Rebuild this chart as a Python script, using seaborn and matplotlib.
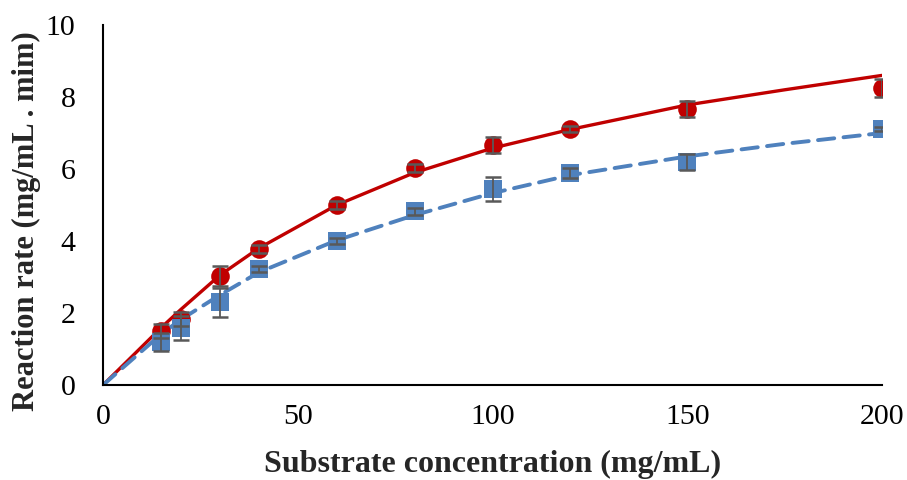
import matplotlib
matplotlib.use('Agg')
import matplotlib.pyplot as plt
import seaborn as sns

# measured points
conc = [15, 20, 30, 40, 60, 80, 100, 120, 150, 200]
rate_red = [1.50, 1.83, 3.03, 3.78, 5.00, 6.03, 6.67, 7.11, 7.67, 8.25]
err_red = [0.20, 0.20, 0.28, 0.10, 0.10, 0.12, 0.22, 0.08, 0.22, 0.25]
rate_blue = [1.20, 1.58, 2.30, 3.22, 4.00, 4.83, 5.45, 5.89, 6.20, 7.11]
err_blue = [0.25, 0.33, 0.40, 0.08, 0.08, 0.10, 0.33, 0.15, 0.22, 0.05]

# fitted curves
fit_x = [0, 15, 20, 30, 40, 60, 80, 100, 120, 150, 175, 200]
fit_red = [0, 1.60, 2.10, 3.05, 3.80, 5.00, 5.90, 6.58, 7.10, 7.78, 8.20, 8.60]
fit_blue = [0, 1.42, 1.82, 2.50, 3.13, 4.02, 4.72, 5.33, 5.83, 6.35, 6.70, 7.00]

red = '#C00000'
blue = '#4F81BD'
grey = '#595959'

sns.set_style('white')
plt.rcParams['font.family'] = ['Liberation Serif', 'DejaVu Serif']

fig = plt.figure(figsize=(9.07, 4.8), dpi=100)
ax = fig.add_axes([0.1136, 0.1979, 0.8588, 0.75])

sns.lineplot(x=fit_x, y=fit_red, color=red, linewidth=2.4, ax=ax, zorder=2)
sns.lineplot(x=fit_x, y=fit_blue, color=blue, linewidth=2.8, linestyle=(0, (4.2, 2.4)),
             dash_capstyle='round', ax=ax, zorder=2)

sns.scatterplot(x=conc, y=rate_red, color=red, marker='o', s=180, edgecolor=red, linewidth=0, ax=ax, zorder=3)
sns.scatterplot(x=conc, y=rate_blue, color=blue, marker='s', s=160, edgecolor=blue, linewidth=0, ax=ax, zorder=4)

ax.errorbar(conc, rate_red, yerr=err_red, fmt='none', ecolor=grey, elinewidth=1.3, capsize=6, capthick=1.8, zorder=5)
ax.errorbar(conc, rate_blue, yerr=err_blue, fmt='none', ecolor=grey, elinewidth=1.3, capsize=6, capthick=1.8, zorder=5)

ax.set_xlim(0, 200)
ax.set_ylim(0, 10)
ax.set_xticks([0, 50, 100, 150, 200])
ax.set_yticks([0, 2, 4, 6, 8, 10])

for side in ['top', 'right']:
    ax.spines[side].set_visible(False)
for side in ['left', 'bottom']:
    ax.spines[side].set_color('black')
    ax.spines[side].set_linewidth(1.5)

ax.tick_params(direction='in', length=7, width=1.5, colors='black', labelsize=21.5)
ax.tick_params(axis='x', pad=14)
ax.tick_params(axis='y', pad=20)

ax.set_xlabel('Substrate concentration (mg/mL)', fontsize=23, fontweight='bold', labelpad=14)
ax.set_ylabel('Reaction rate (mg/mL . mim)', fontsize=22, fontweight='bold')
ax.yaxis.set_label_coords(-0.079, 0.455)

fig.savefig('out.png', dpi=100)
